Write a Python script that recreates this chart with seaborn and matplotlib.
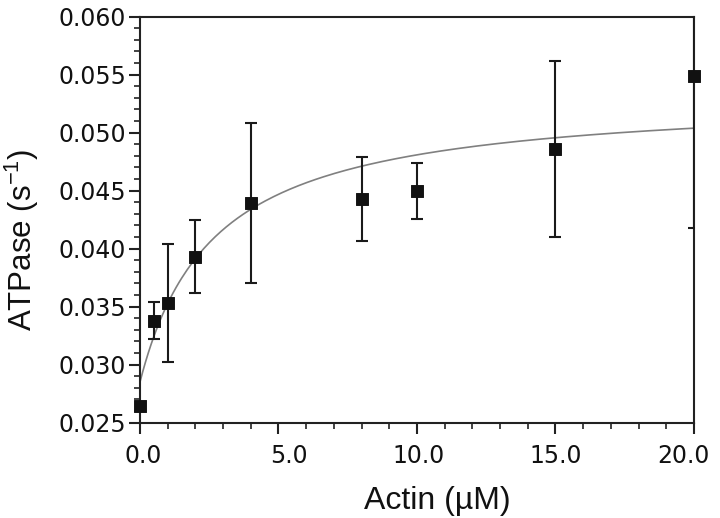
import numpy as np
import pandas as pd
import seaborn as sns
import matplotlib.pyplot as plt
from matplotlib.ticker import MultipleLocator, FormatStrFormatter
from matplotlib.transforms import ScaledTranslation

# Значения
actin = [0.0, 0.5, 1.0, 2.0, 4.0, 8.0, 10.0, 15.0, 20.0]
atpase = [0.0264, 0.0338, 0.0353, 0.0393, 0.0439, 0.0443, 0.0450, 0.0486, 0.0549]
err_low = [0.0, 0.0016, 0.0051, 0.0031, 0.0069, 0.0036, 0.0024, 0.0076, 0.0131]
err_high = [0.0, 0.0016, 0.0051, 0.0032, 0.0069, 0.0036, 0.0024, 0.0076, 0.0131]

# Параметры гиперболической аппроксимации (v0 + Vmax*x/(K+x))
fit_v0 = 0.0285
fit_vmax = 0.0248
fit_k = 2.66

df = pd.DataFrame({'actin': actin, 'atpase': atpase})
x_fit = np.linspace(0, 20, 200)
fit_df = pd.DataFrame({'actin': x_fit,
                       'atpase': fit_v0 + fit_vmax * x_fit / (fit_k + x_fit)})

sns.set_style('ticks')
plt.rcParams['mathtext.fontset'] = 'custom'
plt.rcParams['mathtext.rm'] = 'Liberation Sans'

fig = plt.figure(figsize=(7.2, 5.18), dpi=100)
ax = fig.add_axes([0.1944, 0.184, 0.7695, 0.7838])

sns.lineplot(data=fit_df, x='actin', y='atpase', color='#808080', linewidth=1.2, ax=ax)
ax.errorbar(actin, atpase, yerr=[err_low, err_high], fmt='none', ecolor='#1a1a1a',
            elinewidth=1.5, capsize=4, capthick=1.5, clip_on=True, zorder=3)
sns.scatterplot(data=df, x='actin', y='atpase', marker='s', s=70, color='#111111',
                edgecolor='#111111', ax=ax, zorder=4, clip_on=False)

ax.set_xlim(0, 20)
ax.set_ylim(0.025, 0.060)
ax.xaxis.set_major_locator(MultipleLocator(5))
ax.xaxis.set_minor_locator(MultipleLocator(1))
ax.yaxis.set_major_locator(MultipleLocator(0.005))
ax.yaxis.set_minor_locator(MultipleLocator(0.001))
ax.xaxis.set_major_formatter(FormatStrFormatter('%.1f'))
ax.yaxis.set_major_formatter(FormatStrFormatter('%.3f'))

for side in ['left', 'right', 'top', 'bottom']:
    ax.spines[side].set_linewidth(1.5)
    ax.spines[side].set_color('#222222')

ax.tick_params(which='major', length=8, width=1.5, color='#222222',
               labelsize=17, labelcolor='#111111', pad=2)
ax.tick_params(which='minor', length=4.5, width=1.2, color='#222222')
ax.tick_params(axis='x', which='major', pad=7)

ax.set_xlabel('Actin (µM)', fontsize=23, family='Liberation Sans', color='#111111')
ax.set_ylabel('ATPase (s$^{-1}$)', fontsize=22.5, family='Liberation Sans', color='#111111')
ax.xaxis.set_label_coords(0.537, -0.155)
ax.yaxis.set_label_coords(-0.178, 0.45)

# подписи оси X в оригинале немного смещены относительно делений
fig.canvas.draw()
x_shift_px = {'0.0': 3, '5.0': 10, '10.0': 2, '15.0': 0, '20.0': -11}
for lbl in ax.get_xticklabels():
    lbl.set_family('DejaVu Sans')
    dx = x_shift_px.get(lbl.get_text(), 0)
    lbl.set_transform(lbl.get_transform() + ScaledTranslation(dx / 100, 0, fig.dpi_scale_trans))
for lbl in ax.get_yticklabels():
    lbl.set_family('DejaVu Sans')

plt.savefig('out.png', dpi=100)
